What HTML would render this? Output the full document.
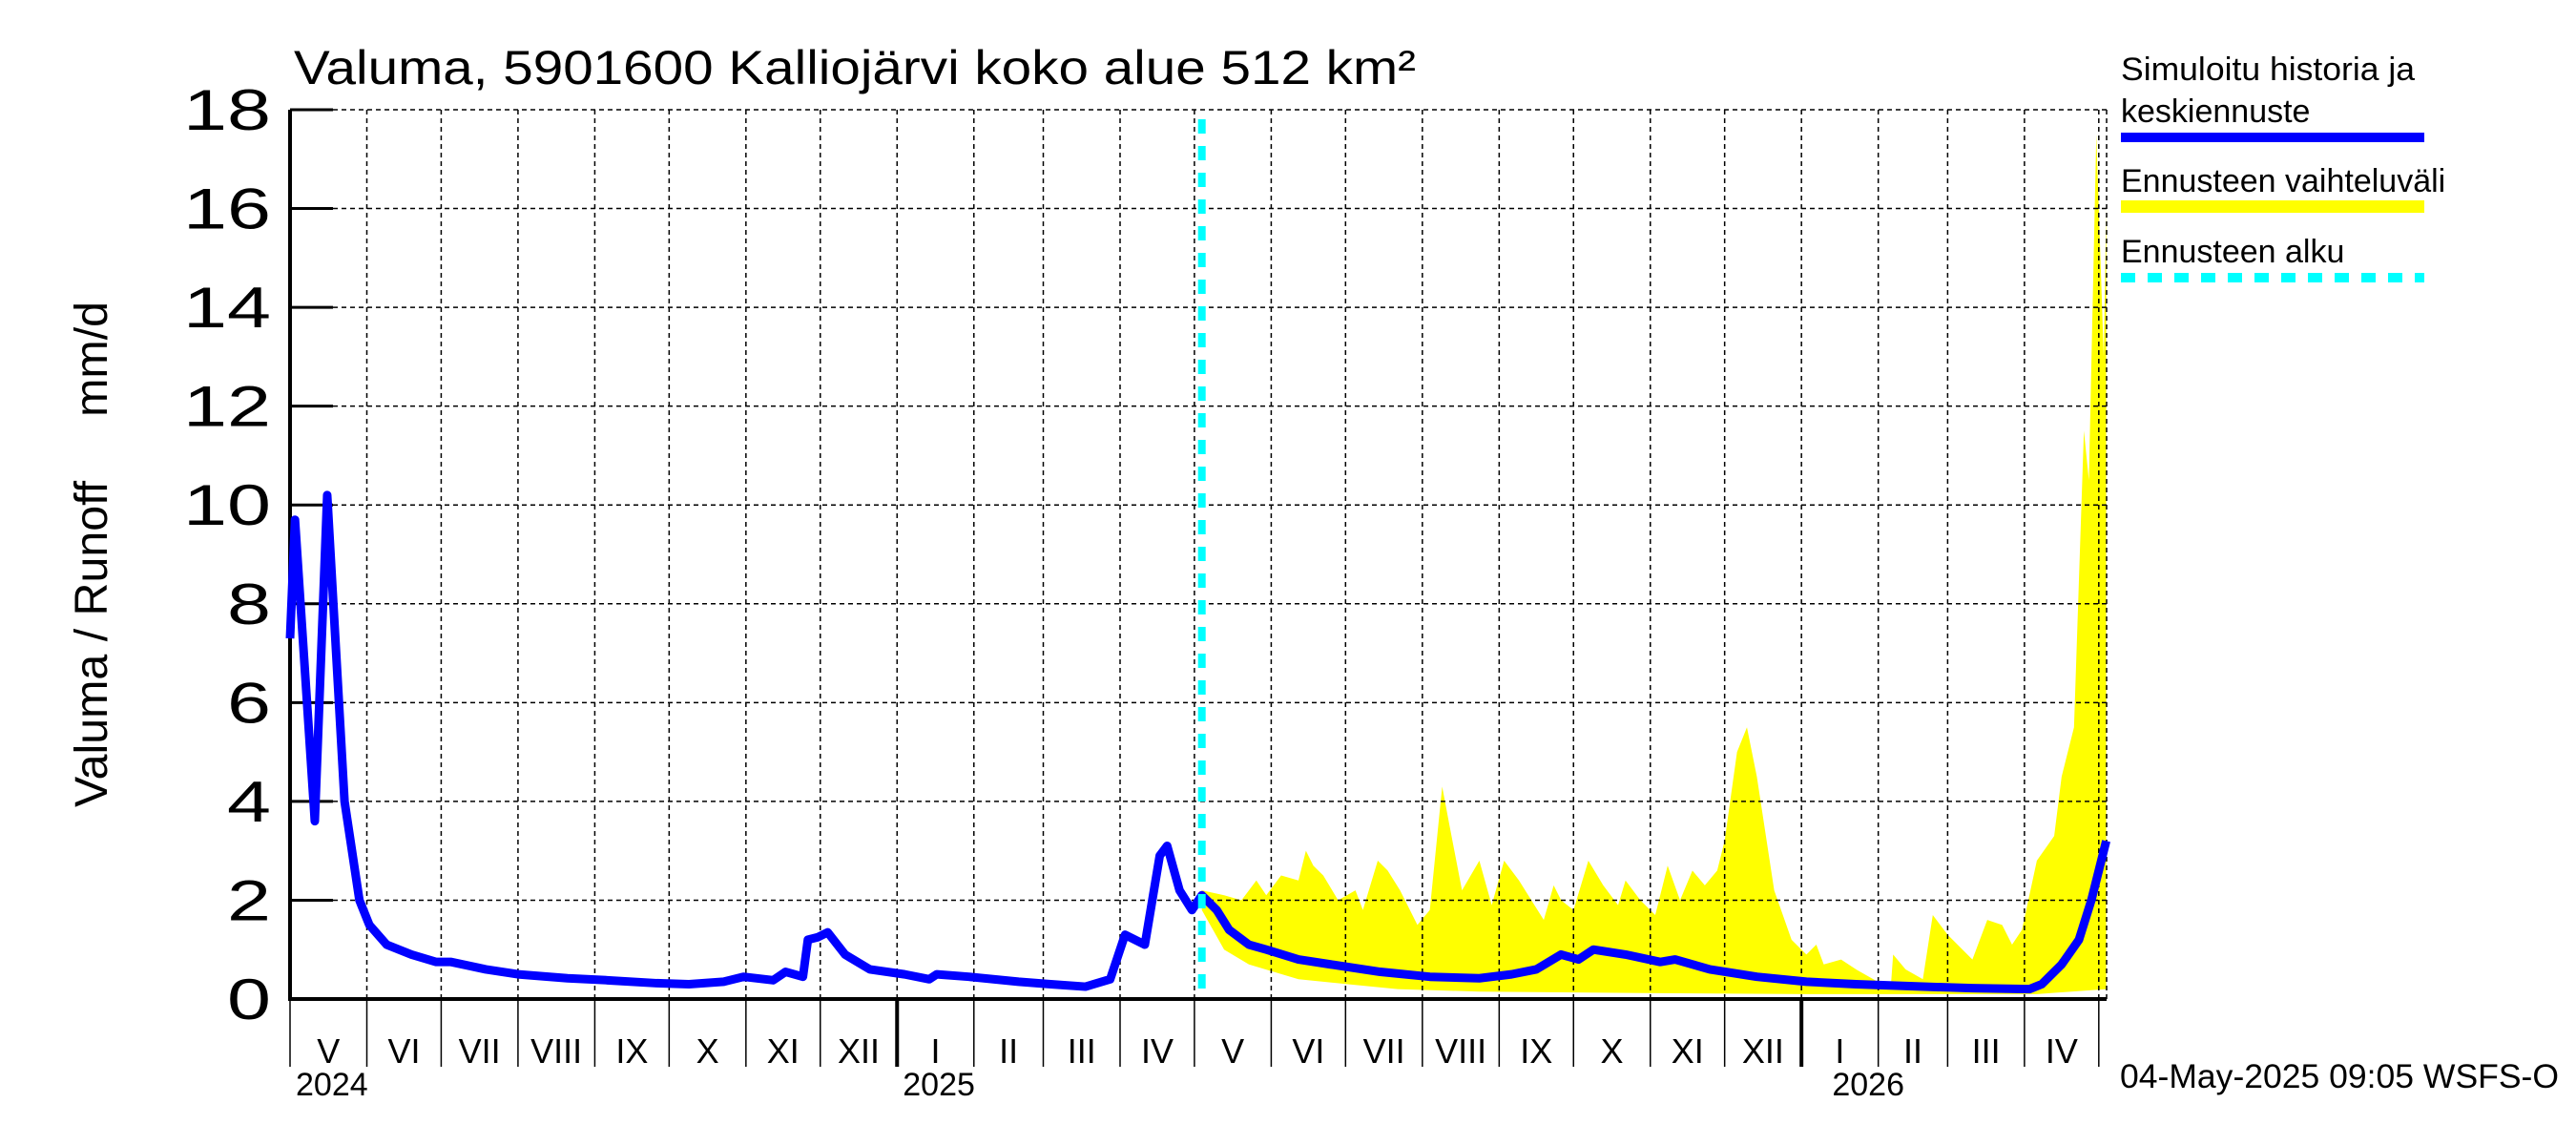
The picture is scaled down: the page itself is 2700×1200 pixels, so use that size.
<!DOCTYPE html>
<html><head><meta charset="utf-8">
<style>
html,body{margin:0;padding:0;background:#fff;}
svg{display:block;font-family:"Liberation Sans",sans-serif;}
</style></head>
<body>
<svg id="chart" width="2700" height="1200" viewBox="0 0 2700 1200" xmlns="http://www.w3.org/2000/svg">
<text x="308" y="88" font-size="50" textLength="1176" lengthAdjust="spacingAndGlyphs">Valuma, 5901600 Kalliojärvi koko alue 512 km²</text>
<text transform="translate(112,581) rotate(-90)" text-anchor="middle" font-size="48" textLength="530" lengthAdjust="spacingAndGlyphs" xml:space="preserve">Valuma / Runoff     mm/d</text>
<g id="legend">
<text x="2223" y="84" font-size="34" textLength="308" lengthAdjust="spacingAndGlyphs">Simuloitu historia ja</text>
<text x="2223" y="128" font-size="34">keskiennuste</text>
<rect x="2223" y="139" width="318" height="10" fill="#0000ff"/>
<text x="2223" y="201" font-size="34">Ennusteen vaihteluväli</text>
<rect x="2223" y="210" width="318" height="13" fill="#ffff00"/>
<text x="2223" y="275" font-size="34">Ennusteen alku</text>
<line x1="2223" y1="291" x2="2541" y2="291" stroke="#00ffff" stroke-width="10" stroke-dasharray="15 13"/>
</g>
<text x="2222" y="1140" font-size="35" textLength="460" lengthAdjust="spacingAndGlyphs">04-May-2025 09:05 WSFS-O</text>
</svg>
<script>
// Data (day = days since 1 May 2024)
const yTicks=[0,2,4,6,8,10,12,14,16,18];
const monthLabels=["V","VI","VII","VIII","IX","X","XI","XII","I","II","III","IV","V","VI","VII","VIII","IX","X","XI","XII","I","II","III","IV"];
const yearLabels=["2024","2025","2026"];
const simDays=[0,2,10,15,22,28,32,39,49,59,65,79,92,112,128,148,161,175,183,195,200,207,209,213,217,224,234,248,258,261,274,294,307,321,331,337,345,351,354,359,364,368,374,379,387,394,407,420,440,460,480,493,503,513,520,526,539,553,559,573,592,612,632,659,679,702,707,715,722,727,733];
const simVals=[7.3,9.7,3.6,10.2,4.0,2.0,1.5,1.1,0.9,0.75,0.75,0.6,0.5,0.42,0.38,0.32,0.3,0.35,0.45,0.38,0.55,0.45,1.2,1.25,1.35,0.9,0.6,0.5,0.4,0.5,0.45,0.35,0.3,0.25,0.4,1.3,1.1,2.9,3.1,2.2,1.8,2.1,1.8,1.4,1.1,1.0,0.8,0.7,0.55,0.45,0.42,0.5,0.6,0.9,0.8,1.0,0.9,0.75,0.8,0.6,0.45,0.35,0.3,0.25,0.22,0.2,0.3,0.7,1.2,2.0,3.2];
const upDays=[368,377,384,390,394,400,407,410,413,417,423,430,433,439,443,448,455,460,465,468,473,480,485,490,496,501,506,510,513,518,524,530,536,539,545,551,556,561,566,571,576,579,584,588,592,599,606,612,616,619,626,632,639,646,647,652,659,663,669,679,685,691,695,699,705,712,715,720,724,726,729,732,733];
const upVals=[2.2,2.1,2.0,2.4,2.1,2.5,2.4,3.0,2.7,2.5,2.0,2.2,1.8,2.8,2.6,2.2,1.5,1.8,4.3,3.5,2.2,2.8,1.9,2.8,2.4,2.0,1.6,2.3,2.0,1.8,2.8,2.3,1.9,2.4,2.0,1.7,2.7,2.0,2.6,2.3,2.6,3.2,5.0,5.5,4.5,2.2,1.2,0.9,1.1,0.7,0.8,0.6,0.4,0.2,0.9,0.6,0.4,1.7,1.3,0.8,1.6,1.5,1.1,1.4,2.8,3.3,4.5,5.5,11.5,10.5,17.5,13.0,16.0];
const loDays=[368,377,387,407,427,447,480,546,612,705,733];
const loVals=[1.8,1.0,0.7,0.4,0.3,0.2,0.15,0.12,0.1,0.1,0.2];
const forecastStartDay=368;

const X0=304,PXD=2.597,Y0=1047,PXU=51.78,XR=2208;
const xs=d=>X0+d*PXD, ys=v=>Y0-v*PXU;
const NS="http://www.w3.org/2000/svg";
const svg=document.getElementById('chart');
function mk(t,a){const e=document.createElementNS(NS,t);for(const k in a)e.setAttribute(k,a[k]);svg.appendChild(e);return e;}

const mStart=[];let dt=new Date(Date.UTC(2024,4,1));
for(let i=0;i<=24;i++){mStart.push(Math.round((dt-Date.UTC(2024,4,1))/864e5));dt=new Date(Date.UTC(dt.getUTCFullYear(),dt.getUTCMonth()+1,1));}

let pts=upDays.map((d,i)=>xs(d)+","+ys(upVals[i]));
for(let i=loDays.length-1;i>=0;i--)pts.push(xs(loDays[i])+","+ys(loVals[i]));
const band=mk('polygon',{points:pts.join(" "),fill:"#ffff00"});



yTicks.forEach(v=>{if(v===0)return;const l=mk('line',{x1:X0,x2:XR,y1:ys(v),y2:ys(v),stroke:"#000","stroke-width":1.5,"stroke-dasharray":"5 4"});

});
mStart.forEach((d,i)=>{if(i===0)return;const x=xs(d);const l=mk('line',{x1:x,x2:x,y1:ys(18),y2:Y0,stroke:"#000","stroke-width":1.5,"stroke-dasharray":"5 4"});

});
mk('line',{x1:XR,x2:XR,y1:ys(18),y2:Y0,stroke:"#000","stroke-width":1.5,"stroke-dasharray":"5 4"});

yTicks.forEach(v=>{const l=mk('line',{x1:X0,x2:X0+45,y1:ys(v),y2:ys(v),stroke:"#000","stroke-width":3});


const w=String(v).length*46;
const t=mk('text',{x:284,y:ys(v)+21,"text-anchor":"end","font-size":60,textLength:w,lengthAdjust:"spacingAndGlyphs"});t.textContent=v;

});

mStart.forEach((d,i)=>{const x=xs(d);const yr=(i===8||i===20);
const l=mk('line',{x1:x,x2:x,y1:Y0,y2:1118,stroke:"#000","stroke-width":yr?4:1.5});


if(i<24){const t=mk('text',{x:(x+xs(mStart[i+1]))/2,y:1114,"text-anchor":"middle","font-size":36});t.textContent=monthLabels[i];

}});
[[0,"start"],[8,"start"],[20,"middle"]].forEach((p,k)=>{const d=mStart[p[0]];const x=p[1]==="middle"?xs(d)+70:xs(d)+6;
const t=mk('text',{x:x,y:1148,"text-anchor":p[1],"font-size":34});t.textContent=yearLabels[k];

});

const ax=mk('path',{d:`M${X0},${ys(18)} L${X0},${Y0} L${XR},${Y0}`,fill:"none",stroke:"#000","stroke-width":4});



const sl=mk('polyline',{points:simDays.map((d,i)=>xs(d)+","+ys(simVals[i])).join(" "),fill:"none",stroke:"#0000ff","stroke-width":9,"stroke-linejoin":"round"});



const fx=xs(forecastStartDay);
const fl=mk('line',{x1:fx,x2:fx,y1:ys(18)+10,y2:Y0,stroke:"#00ffff","stroke-width":8,"stroke-dasharray":"15 13"});


</script>
</body></html>
